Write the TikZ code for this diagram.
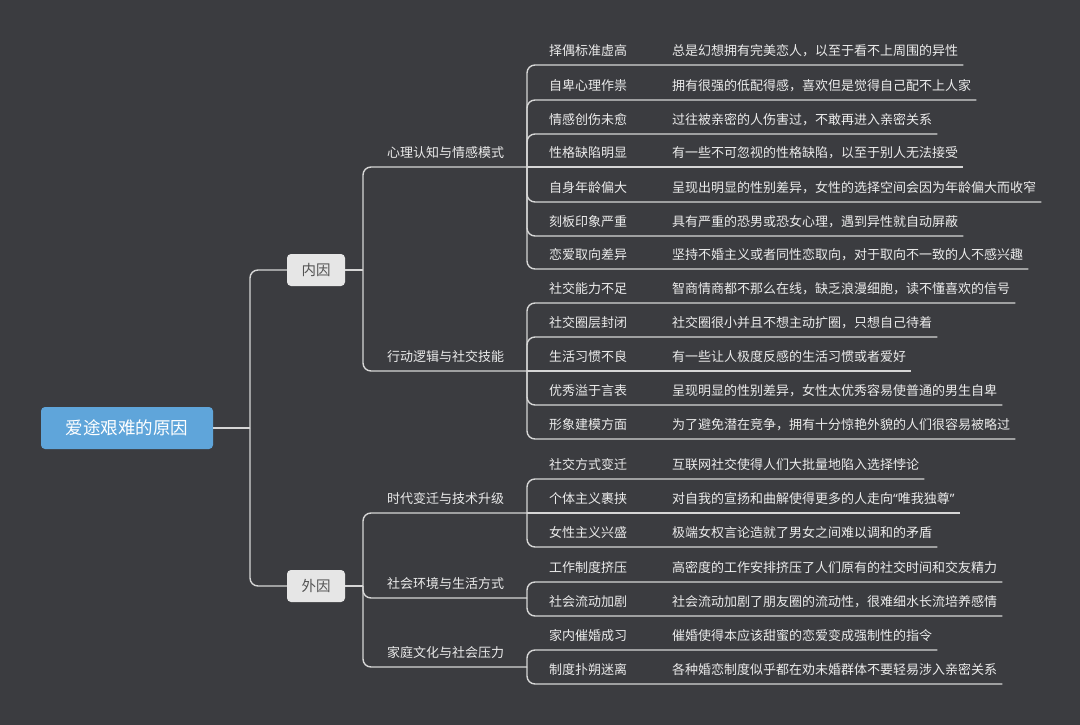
\documentclass[tikz,border=0pt]{standalone}
\usepackage{fontspec}
\setmainfont{Noto Sans CJK SC}
\newfontfamily\quotefont{Noto Sans}
\definecolor{bgc}{HTML}{3B3C40}
\definecolor{lnc}{HTML}{D6D6D6}
\definecolor{txc}{HTML}{EBEBEB}
\definecolor{rootc}{HTML}{5FA5DA}
\definecolor{boxc}{HTML}{E6E6E6}
\newcommand{\fs}[1]{\fontsize{#1}{#1}\selectfont}

\begin{document}
\begin{tikzpicture}[x=1pt,y=-1pt,
  link/.style={draw=lnc,line width=1.4pt,rounded corners=8pt},
  leaf/.style={anchor=west,inner sep=0pt,text=txc,font=\fs{13}},
  desc/.style={leaf,inner xsep=5pt},
  cause/.style={fill=boxc,text=black!68,rounded corners=4pt,minimum width=58pt,minimum height=32pt,font=\fs{14.5}}]
\useasboundingbox (0,0) rectangle (1080,725);
\fill[bgc] (0,0) rectangle (1080,725);
\node[fill=rootc,text=white,rounded corners=4pt,minimum width=172pt,minimum height=42pt,font=\fs{17.5}] (root) at (127,428) {爱途艰难的原因};
\node[cause] (in) at (316,270) {内因};
\node[cause] (out) at (316,586) {外因};
\coordinate (r0) at (250,428);
\coordinate (v1) at (363,270);
\coordinate (v2) at (363,586);
\draw[link] (root.east) -- (r0);
\draw[link] (r0) |- (in.west); \draw[link] (r0) |- (out.west);
\draw[link] (in.east) -- (v1); \draw[link] (out.east) -- (v2);
% second level
\foreach \n/\p/\uy/\lab in {1/v1/167/心理认知与情感模式,2/v1/371/行动逻辑与社交技能,
  3/v2/513/时代变迁与技术升级,4/v2/598/社会环境与生活方式,5/v2/667/家庭文化与社会压力}{
  \node[leaf] (g\n) at (387,{\uy-14}) {\lab};
  \coordinate (j\n) at (527,\uy);
  \draw[link] (\p) |- (j\n);
}
% leaves
\foreach \n/\uy/\lab/\txt in {
  1/65/择偶标准虚高/总是幻想拥有完美恋人，以至于看不上周围的异性,
  2/100/自卑心理作祟/拥有很强的低配得感，喜欢但是觉得自己配不上人家,
  3/134/情感创伤未愈/过往被亲密的人伤害过，不敢再进入亲密关系,
  4/167/性格缺陷明显/有一些不可忽视的性格缺陷，以至于别人无法接受,
  5/202/自身年龄偏大/呈现出明显的性别差异，女性的选择空间会因为年龄偏大而收窄,
  6/236/刻板印象严重/具有严重的恐男或恐女心理，遇到异性就自动屏蔽,
  7/269/恋爱取向差异/坚持不婚主义或者同性恋取向，对于取向不一致的人不感兴趣,
  8/303/社交能力不足/智商情商都不那么在线，缺乏浪漫细胞，读不懂喜欢的信号,
  9/337/社交圈层封闭/社交圈很小并且不想主动扩圈，只想自己待着,
  10/371/生活习惯不良/有一些让人极度反感的生活习惯或者爱好,
  11/405/优秀溢于言表/呈现明显的性别差异，女性太优秀容易使普通的男生自卑,
  12/439/形象建模方面/为了避免潜在竞争，拥有十分惊艳外貌的人们很容易被略过,
  13/479/社交方式变迁/互联网社交使得人们大批量地陷入选择悖论,
  14/513/个体主义裹挟/对自我的宣扬和曲解使得更多的人走向{\quotefont “}唯我独尊{\quotefont ”},
  15/547/女性主义兴盛/极端女权言论造就了男女之间难以调和的矛盾,
  16/582/工作制度挤压/高密度的工作安排挤压了人们原有的社交时间和交友精力,
  17/616/社会流动加剧/社会流动加剧了朋友圈的流动性，很难细水长流培养感情,
  18/650/家内催婚成习/催婚使得本应该甜蜜的恋爱变成强制性的指令,
  19/684/制度扑朔迷离/各种婚恋制度似乎都在劝未婚群体不要轻易涉入亲密关系}{
  \node[leaf] (l\n) at (549,{\uy-14.5}) {\lab};
  \node[desc] (d\n) at (667,{\uy-14.5}) {\txt};
  \coordinate (u\n) at (0,\uy);
}
\foreach \n/\g in {1/1,2/1,3/1,5/1,6/1,7/1,8/2,9/2,11/2,12/2,13/3,15/3,16/4,17/4,18/5,19/5}
  \draw[link] (j\g) |- (d\n.east |- u\n);
\foreach \n/\g in {4/1,10/2,14/3}
  \draw[link] (j\g) -- (d\n.east |- u\n);
\end{tikzpicture}
\end{document}
